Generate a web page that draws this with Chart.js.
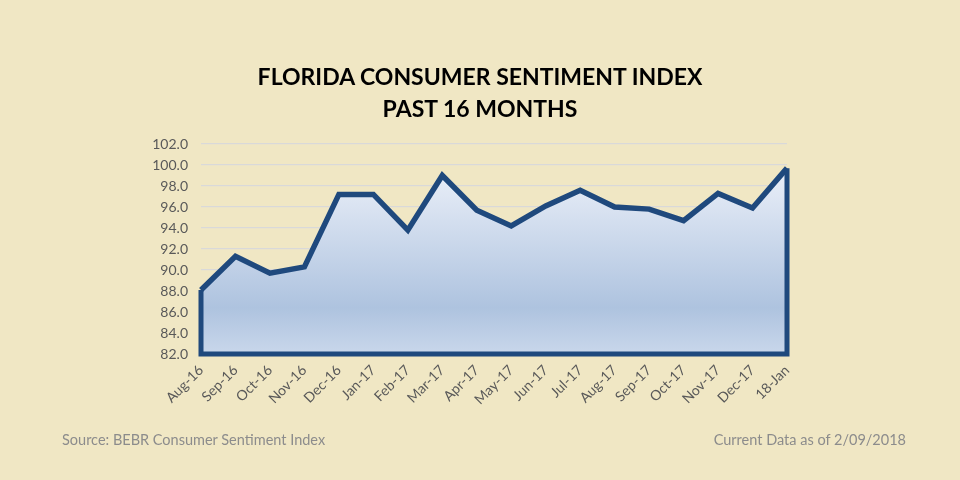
<!DOCTYPE html>
<html><head><meta charset="utf-8">
<script src="https://cdn.jsdelivr.net/npm/chart.js@4"></script>
<style>
html,body{margin:0;padding:0;background:#F0E7C4;}
#wrap{position:relative;width:960px;height:480px;}
#title{position:absolute;left:0;top:60px;width:960px;text-align:center;font:bold 23px Lato,"Open Sans",sans-serif;line-height:32px;color:#000;}
.foot{position:absolute;top:431px;font:14.5px Lato,"Open Sans",sans-serif;color:#8C8C8C;}
canvas{position:absolute;left:0;top:0;}
</style></head>
<body><div id="wrap">
<canvas id="c" width="960" height="480"></canvas>
<div id="title">FLORIDA CONSUMER SENTIMENT INDEX<br>PAST 16 MONTHS</div>
<div class="foot" style="left:62px;">Source: BEBR Consumer Sentiment Index</div>
<div class="foot" style="right:54px;">Current Data as of 2/09/2018</div>
</div>
<script>
const months = ["Aug-16","Sep-16","Oct-16","Nov-16","Dec-16","Jan-17","Feb-17","Mar-17","Apr-17","May-17","Jun-17","Jul-17","Aug-17","Sep-17","Oct-17","Nov-17","Dec-17","18-Jan"];
const sentiment = [88.1,91.3,89.7,90.3,97.2,97.2,93.8,99.0,95.7,94.2,96.1,97.6,96.0,95.8,94.7,97.3,95.9,99.7];
const yMin = 82, yMax = 102, yStep = 2;
const lineColor = "#1F497D";

const outline = {
  id:'outline',
  afterDatasetsDraw(chart){
    const meta = chart.getDatasetMeta(0);
    const pts = meta.data;
    if(!pts.length) return;
    const y = chart.scales.y;
    const bottom = y.getPixelForValue(yMin);
    const ctx = chart.ctx;
    ctx.save();
    ctx.strokeStyle = lineColor;
    ctx.lineWidth = 5;
    ctx.lineJoin = 'miter';
    ctx.beginPath();
    ctx.moveTo(pts[0].x, pts[0].y);
    ctx.lineTo(pts[0].x, bottom);
    ctx.lineTo(pts[pts.length-1].x, bottom);
    ctx.lineTo(pts[pts.length-1].x, pts[pts.length-1].y);
    ctx.stroke();
    ctx.restore();
  }
};

new Chart(document.getElementById('c'), {
  type:'line',
  data:{labels:months, datasets:[{
    data:sentiment,
    borderColor:lineColor,
    borderWidth:5.5,
    borderJoinStyle:'miter',
    pointRadius:0,
    tension:0,
    fill:'start',
    backgroundColor(ctx){
      const ca = ctx.chart.chartArea;
      if(!ca) return '#c0d0e6';
      const g = ctx.chart.ctx.createLinearGradient(0, ca.top, 0, ca.bottom);
      g.addColorStop(0, '#F5F7FD');
      g.addColorStop(0.78, '#AEC3DF');
      g.addColorStop(1, '#C9D7EB');
      return g;
    }
  }]},
  options:{
    responsive:false, animation:false,
    layout:{padding:{left:0,right:173,top:144,bottom:0}},
    plugins:{legend:{display:false}, tooltip:{enabled:false}},
    scales:{
      x:{
        offset:false,
        grid:{display:false, drawTicks:false},
        border:{display:false},
        ticks:{minRotation:45,maxRotation:45,autoSkip:false,padding:8,color:'#595959',font:{family:'Lato, "Open Sans", sans-serif',size:14}},
        afterFit(s){ s.height = 126; }
      },
      y:{
        min:yMin,max:yMax,
        grid:{color:'#D9D9D9',lineWidth:1.2,drawTicks:false},
        border:{display:false},
        ticks:{stepSize:yStep,padding:13,color:'#595959',font:{family:'Lato, "Open Sans", sans-serif',size:14},callback:v=>v.toFixed(1)},
        afterFit(s){ s.width = 201; }
      }
    }
  },
  plugins:[outline]
});
</script>
</body></html>
